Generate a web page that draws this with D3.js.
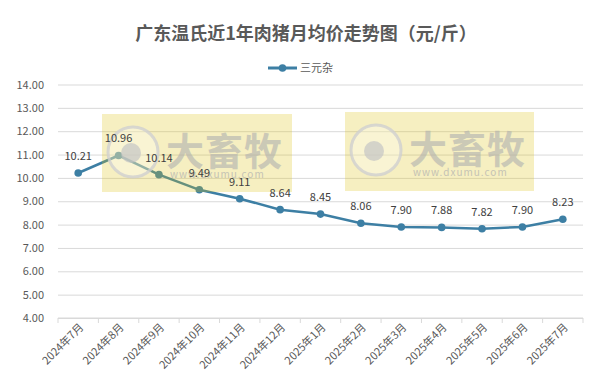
<!DOCTYPE html>
<html><head><meta charset="utf-8">
<script src="https://cdn.jsdelivr.net/npm/d3@7/dist/d3.min.js"></script>
<style>body{margin:0;background:#fff}svg{display:block}text{font-family:"Noto Sans CJK SC","Noto Sans",sans-serif}</style>
</head><body><svg id="c" width="603" height="390"></svg>
<script>
const categories = ["2024年7月","2024年8月","2024年9月","2024年10月","2024年11月","2024年12月","2025年1月","2025年2月","2025年3月","2025年4月","2025年5月","2025年6月","2025年7月"];
const values = [10.21,10.96,10.14,9.49,9.11,8.64,8.45,8.06,7.90,7.88,7.82,7.90,8.23];
const yTicks = [4,5,6,7,8,9,10,11,12,13,14];
const seriesName = "三元杂";
const title = "广东温氏近1年肉猪月均价走势图（元/斤）";

const svg = d3.select("#c");
const x = d3.scaleBand().domain(categories).range([58,583]);
const y = d3.scaleLinear().domain([4,14]).range([318,84.5]);
const lineColor = "#3d7fa4";

svg.append("text").attr("x",306).attr("y",40).attr("text-anchor","middle")
  .attr("font-size",18).attr("font-weight","bold").attr("fill","#595959").text(title);

// legend
const lg = svg.append("g");
lg.append("line").attr("x1",268).attr("x2",297).attr("y1",68).attr("y2",68).attr("stroke",lineColor).attr("stroke-width",3);
lg.append("circle").attr("cx",282.5).attr("cy",68).attr("r",3.8).attr("fill",lineColor);
lg.append("text").attr("x",300).attr("y",72).attr("font-size",11).attr("fill","#595959").text(seriesName);

// grid
const yAxis = d3.axisLeft(y).tickValues(yTicks).tickSize(-(583-58)).tickFormat(d3.format(".2f"));
const gy = svg.append("g").attr("transform","translate(58,0)").call(yAxis);
gy.select(".domain").remove();
gy.selectAll(".tick line").attr("stroke","#d9d9d9");
gy.selectAll(".tick text").attr("x",-14).attr("font-size",11).attr("fill","#595959");

// x axis
const gx = svg.append("g").attr("transform","translate(0,318)");
gx.append("line").attr("x1",58).attr("x2",583).attr("stroke","#d9d9d9");
const bnd = [...categories.map(c=>x(c)), 583];
gx.selectAll("line.t").data(bnd).enter().append("line").attr("class","t")
  .attr("x1",d=>d).attr("x2",d=>d).attr("y1",0).attr("y2",5).attr("stroke","#d9d9d9");
gx.selectAll("text").data(categories).enter().append("text")
  .attr("transform",d=>`translate(${x(d)+x.bandwidth()/2+6},${10}) rotate(-45)`)
  .attr("text-anchor","end").attr("font-size",11).attr("fill","#595959").text(d=>d);

// line
const cx = (d,i)=>x(categories[i])+x.bandwidth()/2;
const line = d3.line().x((d,i)=>cx(d,i)).y(d=>y(d));
svg.append("path").datum(values).attr("d",line).attr("fill","none").attr("stroke",lineColor).attr("stroke-width",2.5);
svg.selectAll("circle.pt").data(values).enter().append("circle").attr("class","pt")
  .attr("cx",cx).attr("cy",d=>y(d)).attr("r",3.8).attr("fill",lineColor);

// watermarks (semi-transparent overlay)
function wm(x0,y0,w,h){
  const g = svg.append("g");
  g.append("rect").attr("x",x0).attr("y",y0).attr("width",w).attr("height",h).attr("fill","#dcc010").attr("opacity",0.26);
  g.append("circle").attr("cx",x0+31).attr("cy",y0+38).attr("r",25).attr("fill","#fff").attr("fill-opacity",0.3).attr("stroke","#cfcfcf").attr("stroke-width",3).attr("stroke-opacity",0.8);
  g.append("circle").attr("cx",x0+29).attr("cy",y0+39).attr("r",10).attr("fill","#c4c4c4").attr("opacity",0.7);
  g.append("text").attr("x",x0+64).attr("y",y0+51).attr("font-size",38).attr("font-weight","bold").attr("fill","#b0b0b0").attr("opacity",0.6).attr("letter-spacing",1).text("大畜牧");
  g.append("text").attr("x",x0+68).attr("y",y0+64).attr("font-size",10).attr("fill","#b0b0b0").attr("opacity",0.7).attr("letter-spacing",1).text("www.dxumu.com");
}
wm(102,114,190,78);
wm(345,112,189,79);

// data labels on top
svg.selectAll("text.lbl").data(values).enter().append("text").attr("class","lbl")
  .attr("x",cx).attr("y",d=>y(d)-13).attr("text-anchor","middle").attr("font-size",11).attr("fill","#404040")
  .text(d=>d.toFixed(2));
</script></body></html>
